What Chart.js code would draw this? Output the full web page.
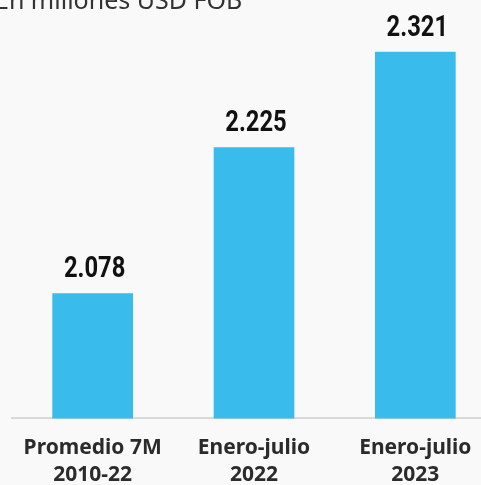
<!DOCTYPE html>
<html lang="es">
<head>
<meta charset="UTF-8">
<title>Exportaciones en millones USD FOB</title>
<script src="https://cdn.jsdelivr.net/npm/chart.js"></script>
<style>
    html, body { margin: 0; padding: 0; background: #f9f9f9; overflow: hidden; }
    #wrap { position: relative; width: 500px; height: 485px; overflow: hidden; }
    #subtitle {
        position: absolute; left: -5px; top: -18px;
        font: 25px "Noto Sans", sans-serif; color: #333; white-space: nowrap;
    }
</style>
</head>
<body>
<div id="wrap">
    <canvas id="chartCanvas" width="500" height="497"></canvas>
    <div id="subtitle">En millones USD FOB</div>
</div>
<script>
    // data
    const categories = [["Promedio 7M", "2010-22"], ["Enero-julio", "2022"], ["Enero-julio", "2023"]];
    const values = [2.078, 2.225, 2.321];
    const valueLabels = ["2.078", "2.225", "2.321"];

    // value labels above each bar (squeezed a bit, the original face is narrow)
    const barLabels = {
        id: 'barLabels',
        afterDatasetsDraw(chart) {
            const ctx = chart.ctx;
            const meta = chart.getDatasetMeta(0);
            meta.data.forEach((bar, i) => {
                ctx.save();
                ctx.font = 'bold 29px "Roboto", sans-serif';
                ctx.fillStyle = '#111';
                ctx.textAlign = 'center';
                ctx.textBaseline = 'alphabetic';
                ctx.translate(bar.x + 2, bar.y - 16);
                ctx.scale(0.82, 1);
                ctx.fillText(valueLabels[i], 0, 0);
                ctx.restore();
            });
        }
    };

    new Chart(document.getElementById('chartCanvas'), {
        type: 'bar',
        data: {
            labels: categories,
            datasets: [{
                data: values,
                backgroundColor: '#39bbeb',
                barPercentage: 0.5,
                categoryPercentage: 1
            }]
        },
        options: {
            responsive: false,
            animation: false,
            layout: { padding: { left: 12, right: 4, top: 23, bottom: 0 } },
            plugins: {
                legend: { display: false },
                tooltip: { enabled: false }
            },
            scales: {
                y: {
                    display: false,
                    min: 1.952,
                    max: 2.35
                },
                x: {
                    grid: { display: false },
                    border: { display: true, color: '#d9d9d9', width: 2 },
                    ticks: {
                        color: '#2b2b2b',
                        padding: 8,
                        maxRotation: 0,
                        font: { family: '"Noto Sans", sans-serif', size: 21, weight: 'bold', lineHeight: 1.3 }
                    }
                }
            }
        },
        plugins: [barLabels]
    });
</script>
</body>
</html>
